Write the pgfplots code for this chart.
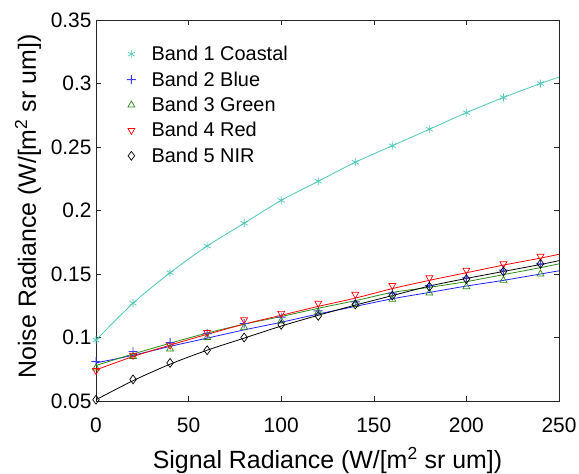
\documentclass[border=0pt]{standalone}
\usepackage{pgfplots}
\pgfplotsset{compat=1.18}
\usepackage{fontspec}
\setmainfont{Liberation Sans}
\definecolor{coast}{RGB}{77,200,182}
\definecolor{bandblue}{RGB}{30,30,255}
\definecolor{plusblue}{RGB}{60,60,255}
\definecolor{bgreen}{RGB}{40,140,20}
\definecolor{bred}{RGB}{255,0,0}
\definecolor{axgray}{RGB}{38,38,38}
\pgfdeclareplotmark{bplus}{%
  \pgfpathrectangle{\pgfqpoint{-\pgfplotmarksize}{-0.45bp}}{\pgfqpoint{2\pgfplotmarksize}{0.9bp}}%
  \pgfpathrectangle{\pgfqpoint{-0.45bp}{-\pgfplotmarksize}}{\pgfqpoint{0.9bp}{2\pgfplotmarksize}}%
  \pgfsetfillcolor{plusblue}%
  \pgfusepathqfill}
\begin{document}
\begin{tikzpicture}[x=1bp,y=1bp]
\useasboundingbox (-96bp,-73bp) rectangle (483bp,401bp);
\begin{axis}[
  at={(0,0)}, anchor=origin,
  scale only axis, width=463bp, height=381bp,
  xmin=0, xmax=250, ymin=0.05, ymax=0.35,
  xtick={0,50,100,150,200,250},
  ytick={0.05,0.1,0.15,0.2,0.25,0.3,0.35},
  yticklabels={0.05,0.1,0.15,0.2,0.25,0.3,0.35},
  xticklabels={0,50,100,150,200,250},
  tick align=inside, tick pos=both,
  major tick length=5bp,
  axis line style={axgray, line width=0.6pt},
  every tick/.style={axgray, line width=0.6pt},
  tick label style={font=\fontsize{21}{25}\selectfont, text=black},
  xticklabel style={anchor=base, yshift=-31bp},
  yticklabel style={xshift=-1bp},
  label style={font=\fontsize{25}{30}\selectfont},
  xlabel={Signal Radiance (W/[m\textsuperscript{2} sr um])},
  ylabel={Noise Radiance (W/[m\textsuperscript{2} sr um])},
  xlabel style={at={(axis description cs:0.5,0)}, anchor=base, yshift=-67bp},
  ylabel style={at={(axis description cs:0,0.5)}, anchor=base, yshift=60bp, xshift=4bp},
  legend image code/.code={\draw[#1] plot coordinates {(4bp,0bp)}; \path (-2bp,0bp) (22bp,0bp);},
  legend style={draw=none, fill=none, at={(axis description cs:0,1)}, anchor=north west,
    xshift=26bp, yshift=-22bp,
    font=\fontsize{20}{24}\selectfont, row sep=5.5bp},
  legend cell align=left,
  clip=false,
]
% markers (data)
\addplot[only marks, color=coast, mark=asterisk, mark size=4bp, mark options={draw=coast, line width=0.7pt}] coordinates {
(0,0.098)(20,0.127)(40,0.151)(60,0.172)(80,0.190)(100,0.208)(120,0.223)(140,0.238)(160,0.251)(180,0.264)(200,0.277)(220,0.289)(240,0.300)};
\addlegendentry{Band 1 Coastal}
\addplot[only marks, color=plusblue, mark=bplus, mark size=4.5bp] coordinates {
(0,0.081)(20,0.089)(40,0.096)(60,0.103)(80,0.111)(100,0.116)(120,0.121)(140,0.128)(160,0.135)(180,0.141)(200,0.147)(220,0.153)(240,0.158)};
\addlegendentry{Band 2 Blue}
\addplot[only marks, color=bgreen, mark=triangle, mark size=4bp, mark options={draw=bgreen, line width=0.7pt}] coordinates {
(0,0.076)(20,0.085)(40,0.091)(60,0.100)(80,0.108)(100,0.113)(120,0.120)(140,0.126)(160,0.130)(180,0.135)(200,0.140)(220,0.145)(240,0.150)};
\addlegendentry{Band 3 Green}
\addplot[only marks, color=bred, mark=triangle, mark size=4bp, mark options={draw=bred, rotate=180, line width=0.7pt}] coordinates {
(0,0.074)(20,0.086)(40,0.094)(60,0.104)(80,0.114)(100,0.119)(120,0.127)(140,0.134)(160,0.141)(180,0.147)(200,0.153)(220,0.158)(240,0.164)};
\addlegendentry{Band 4 Red}
\addplot[only marks, color=black, mark=diamond, mark size=4.4bp, mark options={draw=black, line width=0.7pt}] coordinates {
(0,0.051)(20,0.067)(40,0.080)(60,0.090)(80,0.100)(100,0.110)(120,0.117)(140,0.126)(160,0.133)(180,0.140)(200,0.146)(220,0.152)(240,0.158)};
\addlegendentry{Band 5 NIR}
% fitted curves
\addplot[coast, line width=0.8pt, smooth, forget plot] coordinates {
(0,0.098)(20,0.127)(40,0.151)(60,0.172)(80,0.190)(100,0.208)(120,0.223)(140,0.238)(160,0.251)(180,0.264)(200,0.277)(220,0.289)(240,0.300)(250,0.305)};
\addplot[bandblue, line width=0.8pt, smooth, forget plot] coordinates {
(0,0.080)(20,0.086)(40,0.093)(60,0.0995)(80,0.106)(100,0.112)(120,0.1185)(140,0.1245)(160,0.1305)(180,0.1355)(200,0.1405)(220,0.145)(240,0.150)(250,0.1525)};
\addplot[bgreen, line width=0.8pt, smooth, forget plot] coordinates {
(0,0.078)(20,0.087)(40,0.0955)(60,0.1035)(80,0.1105)(100,0.1165)(120,0.123)(140,0.129)(160,0.1355)(180,0.1395)(200,0.144)(220,0.1495)(240,0.155)(250,0.158)};
\addplot[bred, line width=0.8pt, smooth, forget plot] coordinates {
(0,0.0745)(20,0.085)(40,0.094)(60,0.1025)(80,0.1105)(100,0.1175)(120,0.1245)(140,0.131)(160,0.1385)(180,0.145)(200,0.151)(220,0.157)(240,0.1625)(250,0.1655)};
\addplot[black, line width=0.8pt, smooth, forget plot] coordinates {
(0,0.051)(20,0.066)(40,0.079)(60,0.090)(80,0.0995)(100,0.109)(120,0.1175)(140,0.1255)(160,0.133)(180,0.1405)(200,0.1465)(220,0.152)(240,0.1575)(250,0.1605)};
\end{axis}
\end{tikzpicture}
\end{document}
